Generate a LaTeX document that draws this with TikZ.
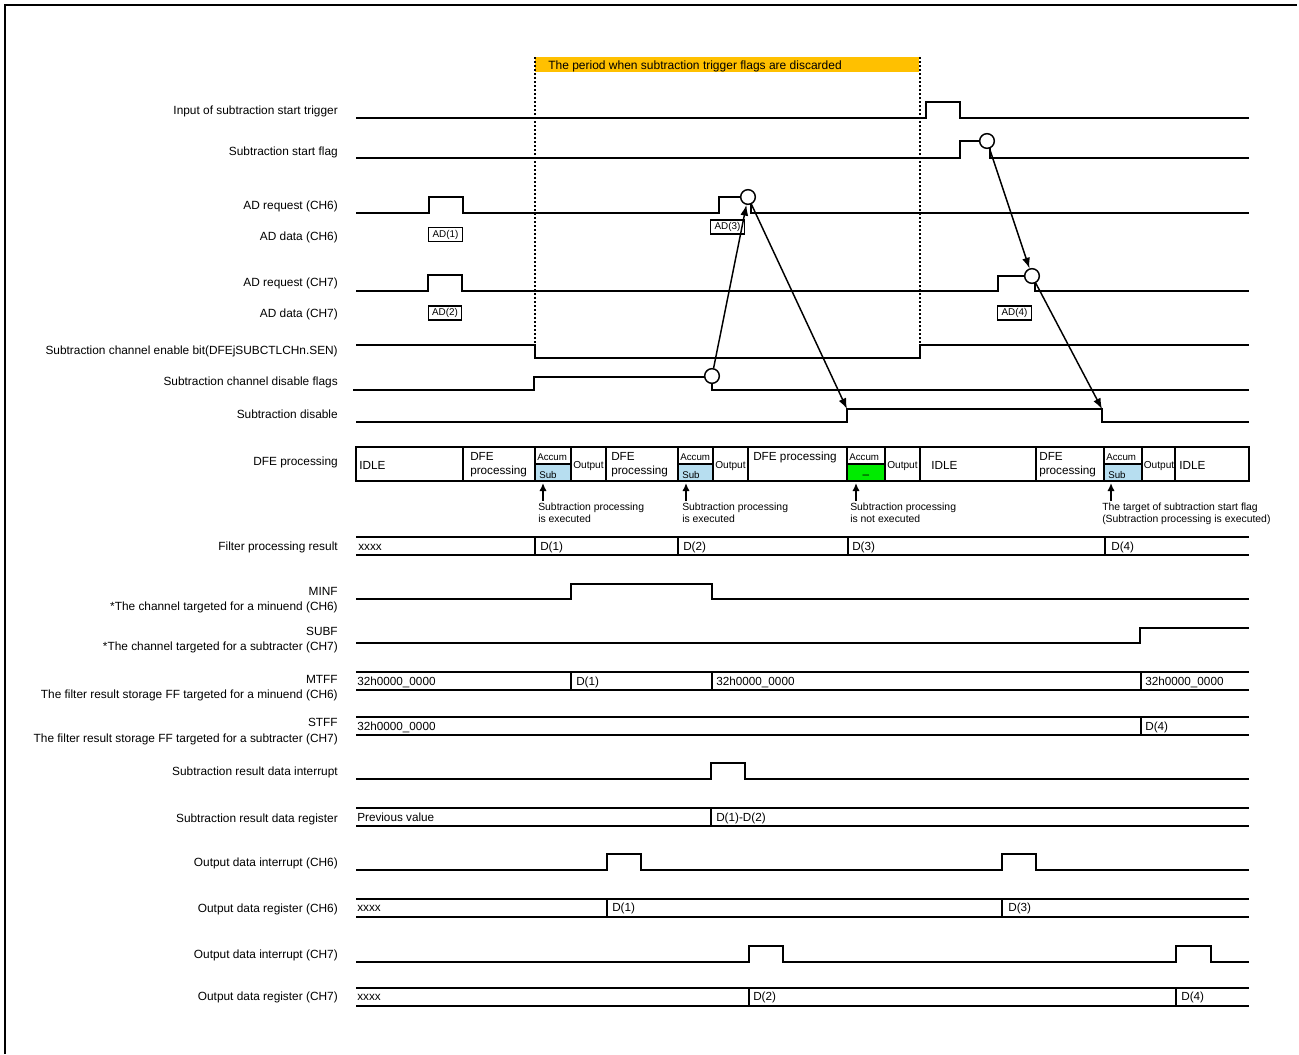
\documentclass[tikz,border=0pt]{standalone}
\usepackage{fontspec}
\setmainfont{Liberation Sans}
\usetikzlibrary{arrows.meta}
\definecolor{bandorange}{RGB}{255,192,0}
\definecolor{subblue}{RGB}{183,222,240}
\definecolor{nosubgreen}{RGB}{0,235,0}
\begin{document}
\begin{tikzpicture}[x=0.75pt,y=-0.75pt,
  sig/.style={line width=1.4pt},
  thin/.style={line width=0.9pt},
  frameline/.style={line width=1.6pt},
  lbl/.style={anchor=base east,inner sep=0pt,font=\fontsize{8.9}{10}\selectfont},
  val/.style={anchor=base west,inner sep=0pt,font=\fontsize{8.8}{10}\selectfont},
  cell/.style={anchor=base west,inner sep=0pt,font=\fontsize{8.8}{10}\selectfont},
  outcell/.style={anchor=base west,inner sep=0pt,font=\fontsize{7.6}{10}\selectfont},
  note/.style={anchor=base west,inner sep=0pt,font=\fontsize{7.8}{9}\selectfont},
  tiny/.style={anchor=base west,inner sep=0pt,font=\fontsize{7.3}{8}\selectfont},
  flag/.style={circle,draw,fill=white,line width=1.1pt,minimum size=11pt,inner sep=0pt},
  link/.style={line width=1.1pt,-{Latex[length=8pt,width=6pt]}},
  uparrow/.style={line width=1.3pt,-{Latex[length=6pt,width=5.5pt]}},
  adbox/.style={draw,line width=0.9pt,inner sep=0pt,minimum width=25pt,minimum height=10.5pt,font=\fontsize{7.4}{8}\selectfont},
  period/.style={line width=1pt,dash pattern=on 1.6pt off 1.4pt},
]
\useasboundingbox (0,0) rectangle (1299,1054);
% frame
\draw[frameline] (5,1054) -- (5,5) -- (1297,5);

% discard period band
\fill[bandorange] (535,57) rectangle (919,72);
\node[val,font=\fontsize{9}{10}\selectfont] (band) at (548,69) {The period when subtraction trigger flags are discarded};
\draw[period] (535,57) -- (535,358);
\draw[period] (920,57) -- (920,358);

% labels
\node[lbl] (L1) at (338,114) {Input of subtraction start trigger};
\node[lbl] (L2) at (338,155) {Subtraction start flag};
\node[lbl] (L3) at (338,209) {AD request (CH6)};
\node[lbl] (L4) at (338,240) {AD data (CH6)};
\node[lbl] (L5) at (338,286) {AD request (CH7)};
\node[lbl] (L6) at (338,317) {AD data (CH7)};
\node[lbl] (L7) at (338,354) {Subtraction channel enable bit(DFEjSUBCTLCHn.SEN)};
\node[lbl] (L8) at (338,385) {Subtraction channel disable flags};
\node[lbl] (L9) at (338,418) {Subtraction disable};
\node[lbl] (L10) at (338,465) {DFE processing};
\node[lbl] (L11) at (338,550) {Filter processing result};
\node[lbl] (L12a) at (338,595) {MINF};
\node[lbl] (L12b) at (338,610) {*The channel targeted for a minuend (CH6)};
\node[lbl] (L13a) at (338,635) {SUBF};
\node[lbl] (L13b) at (338,650) {*The channel targeted for a subtracter (CH7)};
\node[lbl] (L14a) at (338,683) {MTFF};
\node[lbl] (L14b) at (338,698) {The filter result storage FF targeted for a minuend (CH6)};
\node[lbl] (L15a) at (338,726) {STFF};
\node[lbl] (L15b) at (338,742) {The filter result storage FF targeted for a subtracter (CH7)};
\node[lbl] (L16) at (338,775) {Subtraction result data interrupt};
\node[lbl] (L17) at (338,822) {Subtraction result data register};
\node[lbl] (L18) at (338,866) {Output data interrupt (CH6)};
\node[lbl] (L19) at (338,912) {Output data register (CH6)};
\node[lbl] (L20) at (338,958) {Output data interrupt (CH7)};
\node[lbl] (L21) at (338,1000) {Output data register (CH7)};

% input of subtraction start trigger
\draw[sig] (356,118) -- (926,118) -- (926,102) -- (960,102) -- (960,118) -- (1249,118);
% subtraction start flag
\draw[sig] (356,158) -- (960,158) -- (960,141) -- (987,141);
\draw[sig] (990,141) -- (990,158) -- (1249,158);
% AD request CH6
\draw[sig] (356,213) -- (429,213) -- (429,197) -- (463,197) -- (463,213) -- (719,213) -- (719,197) -- (748,197);
\draw[sig] (751,197) -- (751,213) -- (1249,213);
% AD request CH7
\draw[sig] (356,291) -- (428,291) -- (428,275) -- (462,275) -- (462,291) -- (998,291) -- (998,276) -- (1032,276);
\draw[sig] (1035,276) -- (1035,291) -- (1249,291);
% AD data boxes
\node[adbox] (ad1) at (445.5,234.5) {AD(1)};
\node[adbox] (ad3) at (727.5,227) {AD(3)};
\node[adbox] (ad2) at (445,313) {AD(2)};
\node[adbox] (ad4) at (1014.5,313) {AD(4)};
% enable bit
\draw[sig] (356,345) -- (535,345) -- (535,358) -- (920,358) -- (920,345) -- (1249,345);
% disable flags
\draw[sig] (353,390) -- (534,390) -- (534,377) -- (712,377) -- (712,390) -- (1249,390);
% subtraction disable
\draw[sig] (356,422) -- (847,422) -- (847,409) -- (1102,409) -- (1102,422) -- (1249,422);
\coordinate (dis1) at (847,409);
\coordinate (dis2) at (1102,409);

% flag circles
\node[flag] (c1) at (712,376) {};
\node[flag] (c2) at (748,197) {};
\node[flag] (c3) at (987,141) {};
\node[flag] (c4) at (1032,276) {};
\draw[link] (c1) -- (c2);
\draw[link] (c2) -- (dis1);
\draw[link] (c3) -- (c4);
\draw[link] (c4) -- (dis2);

% DFE processing row
\fill[subblue] (535,464) rectangle (571,481);
\fill[subblue] (678,464) rectangle (713,481);
\fill[nosubgreen] (847,464) rectangle (885,481);
\fill[subblue] (1104,464) rectangle (1142,481);
\draw[sig] (356,447) rectangle (1249,481);
\foreach \xx in {463,535,571,606,678,713,748,847,885,920,1036,1104,1142,1175}
  \draw[sig] (\xx,447) -- (\xx,481);
\foreach \xa/\xb in {535/571,678/713,847/885,1104/1142}
  \draw[thin] (\xa,464) -- (\xb,464);
\node[cell] (idle1) at (359,469) {IDLE};
\node[cell] (dfe1a) at (470,460) {DFE};
\node[cell] (dfe1b) at (470,474) {processing};
\node[tiny] (acc1) at (537,460) {Accum};
\node[tiny] (sub1) at (539,478) {Sub};
\node[outcell] (out1) at (573,468) {Output};
\node[cell] (dfe2a) at (611,460) {DFE};
\node[cell] (dfe2b) at (611,474) {processing};
\node[tiny] (acc2) at (680,460) {Accum};
\node[tiny] (sub2) at (682,478) {Sub};
\node[outcell] (out2) at (715,468) {Output};
\node[cell] (dfe3) at (753,460) {DFE processing};
\node[tiny] (acc3) at (849,460) {Accum};
\node[cell,anchor=base] (sub3) at (866,478) {--};
\node[outcell] (out3) at (887,468) {Output};
\node[cell] (idle2) at (931,469) {IDLE};
\node[cell] (dfe4a) at (1039,460) {DFE};
\node[cell] (dfe4b) at (1039,474) {processing};
\node[tiny] (acc4) at (1106,460) {Accum};
\node[tiny] (sub4) at (1108,478) {Sub};
\node[outcell] (out4) at (1143.5,468) {Output};
\node[cell] (idle3) at (1179,469) {IDLE};

% notes under the accum cells
\coordinate (u1s) at (543,501); \coordinate (u1e) at (543,483);
\coordinate (u2s) at (686,501); \coordinate (u2e) at (686,483);
\coordinate (u3s) at (856,501); \coordinate (u3e) at (856,483);
\coordinate (u4s) at (1111,501); \coordinate (u4e) at (1111,483);
\draw[uparrow] (u1s) -- (u1e);
\draw[uparrow] (u2s) -- (u2e);
\draw[uparrow] (u3s) -- (u3e);
\draw[uparrow] (u4s) -- (u4e);
\node[note] (n1a) at (538,510) {Subtraction processing};
\node[note] (n1b) at (538,522) {is executed};
\node[note] (n2a) at (682,510) {Subtraction processing};
\node[note] (n2b) at (682,522) {is executed};
\node[note] (n3a) at (850,510) {Subtraction processing};
\node[note] (n3b) at (850,522) {is not executed};
\node[note] (n4a) at (1102,510) {The target of subtraction start flag};
\node[note] (n4b) at (1102,522) {(Subtraction processing is executed)};

% filter processing result
\draw[sig] (356,537) -- (1249,537);
\draw[sig] (356,555) -- (1249,555);
\foreach \xx in {535,678,848,1105} \draw[sig] (\xx,537) -- (\xx,555);
\node[val] (f0) at (358,550) {xxxx};
\node[val] (f1) at (540,550) {D(1)};
\node[val] (f2) at (683,550) {D(2)};
\node[val] (f3) at (852,550) {D(3)};
\node[val] (f4) at (1111,550) {D(4)};

% MINF
\draw[sig] (356,599) -- (571,599) -- (571,584) -- (712,584) -- (712,599) -- (1249,599);
% SUBF
\draw[sig] (356,643) -- (1140,643) -- (1140,628) -- (1249,628);

% MTFF
\draw[sig] (356,672) -- (1249,672);
\draw[sig] (356,690) -- (1249,690);
\foreach \xx in {571,712,1141} \draw[sig] (\xx,672) -- (\xx,690);
\node[val] (m0) at (357,685) {32h0000\_0000};
\node[val] (m1) at (576,685) {D(1)};
\node[val] (m2) at (716,685) {32h0000\_0000};
\node[val] (m3) at (1145,685) {32h0000\_0000};

% STFF
\draw[sig] (356,717) -- (1249,717);
\draw[sig] (356,735) -- (1249,735);
\draw[sig] (1141,717) -- (1141,735);
\node[val] (s0) at (357,730) {32h0000\_0000};
\node[val] (s1) at (1145,730) {D(4)};

% subtraction result data interrupt
\draw[sig] (356,779) -- (711,779) -- (711,763) -- (745,763) -- (745,779) -- (1249,779);
% subtraction result data register
\draw[sig] (356,808) -- (1249,808);
\draw[sig] (356,826) -- (1249,826);
\draw[sig] (711,808) -- (711,826);
\node[val] (r0) at (357,821) {Previous value};
\node[val] (r1) at (716,821) {D(1)-D(2)};

% output data interrupt CH6
\draw[sig] (356,870) -- (607,870) -- (607,854) -- (641,854) -- (641,870) -- (1002,870) -- (1002,854) -- (1036,854) -- (1036,870) -- (1249,870);
% output data register CH6
\draw[sig] (356,899) -- (1249,899);
\draw[sig] (356,917) -- (1249,917);
\foreach \xx in {607,1002} \draw[sig] (\xx,899) -- (\xx,917);
\node[val] (o60) at (357,911) {xxxx};
\node[val] (o61) at (612,911) {D(1)};
\node[val] (o62) at (1008,911) {D(3)};

% output data interrupt CH7
\draw[sig] (356,962) -- (749,962) -- (749,946) -- (783,946) -- (783,962) -- (1176,962) -- (1176,946) -- (1211,946) -- (1211,962) -- (1249,962);
% output data register CH7
\draw[sig] (356,988) -- (1249,988);
\draw[sig] (356,1006) -- (1249,1006);
\foreach \xx in {749,1176} \draw[sig] (\xx,988) -- (\xx,1006);
\node[val] (o70) at (357,1000) {xxxx};
\node[val] (o71) at (753,1000) {D(2)};
\node[val] (o72) at (1181,1000) {D(4)};
\end{tikzpicture}
\end{document}
